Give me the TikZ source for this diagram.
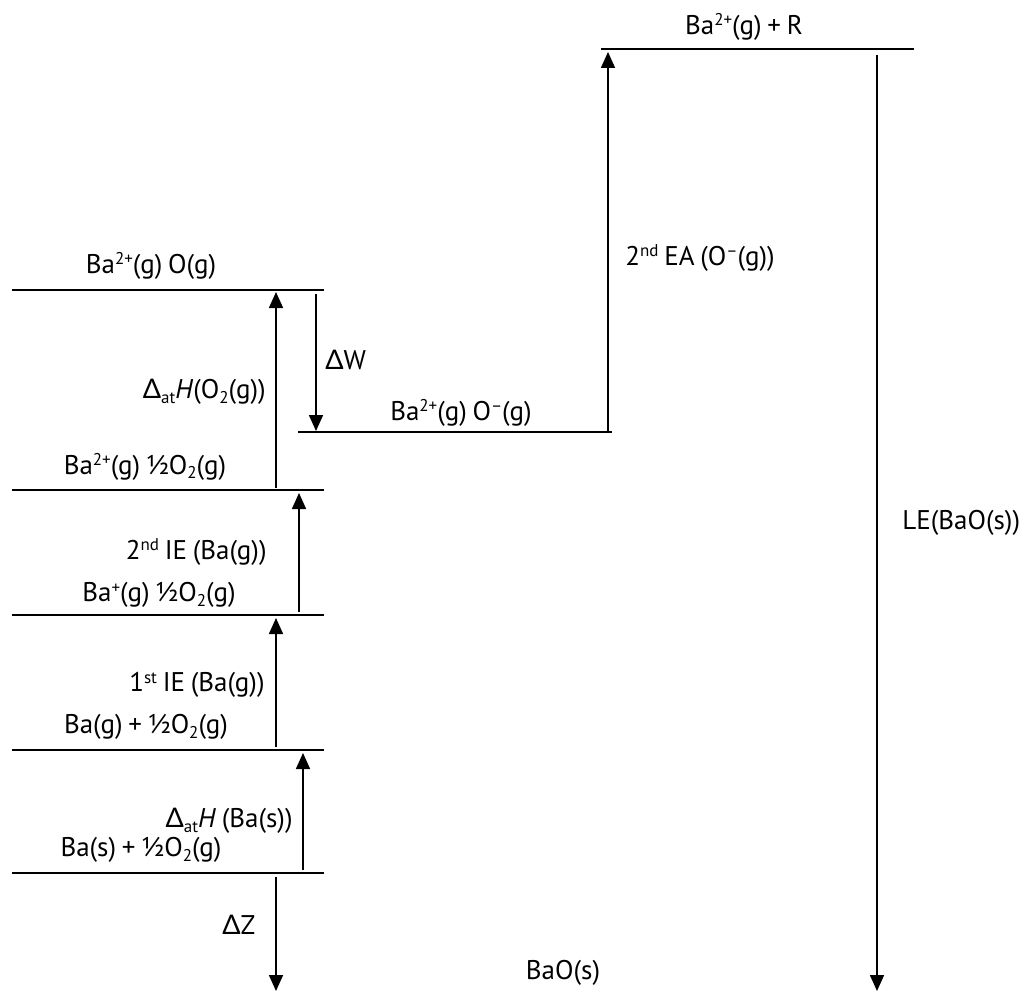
\documentclass[tikz,border=0pt]{standalone}
\usepackage{fontspec}
\setmainfont{PT Sans}[WordSpace=0.8]
\newfontfamily\greekfont{Lato}
\usetikzlibrary{arrows.meta}
% small helpers for the chemical labels
\newcommand{\Dl}{{\greekfont Δ}}
\newcommand{\hi}[1]{\raisebox{0.62ex}{\fontsize{8.5}{9}\selectfont #1}}
\newcommand{\lo}[1]{\raisebox{-0.35ex}{\fontsize{8.5}{9}\selectfont #1}}
\tikzset{
  level/.style={line width=0.85pt},
  jump/.style={line width=0.8pt,-{Triangle[width=7pt,length=8pt]}},
  lbl/.style={inner sep=0pt,font=\fontsize{13.5}{15}\selectfont},
}
\begin{document}
\begin{tikzpicture}[x=0.5pt,y=-0.5pt]
\useasboundingbox (0,0) rectangle (1026,994);

% energy levels
\draw[level] (601,49) -- (914,49);
\draw[level] (12,290) -- (324,290);
\draw[level] (298,432) -- (612,432);
\draw[level] (12,490) -- (324,490);
\draw[level] (12,615) -- (324,615);
\draw[level] (12,750) -- (324,750);
\draw[level] (12,873) -- (324,873);

% species on each level
\node[lbl] (top)  at (744,27)  {Ba\hi{2+}(g) + R};
\node[lbl] (lvA)  at (151,266) {Ba\hi{2+}(g) O(g)};
\node[lbl] (lvB)  at (461,413) {Ba\hi{2+}(g) O\hi{–}(g)};
\node[lbl] (lvC)  at (145,467) {Ba\hi{2+}(g) ½O\lo{2}(g)};
\node[lbl] (lvD)  at (159,595) {Ba\hi{+}(g) ½O\lo{2}(g)};
\node[lbl] (lvE)  at (146,727) {Ba(g) + ½O\lo{2}(g)};
\node[lbl] (lvF)  at (141,850) {Ba(s) + ½O\lo{2}(g)};
\node[lbl] (lvG)  at (563,973) {BaO(s)};

% step labels
\node[lbl,anchor=west] (ea2)  at (625,258) {2\hi{nd} EA (O\hi{–}(g))};
\node[lbl,anchor=west] (dW)   at (325,360) {\Dl W};
\node[lbl,anchor=east] (atO)  at (266,392) {\Dl\lo{at}\textit{H}(O\lo{2}(g))};
\node[lbl,anchor=east] (ie2)  at (267,552) {2\hi{nd} IE (Ba(g))};
\node[lbl,anchor=east] (ie1)  at (265,685) {1\hi{st} IE (Ba(g))};
\node[lbl,anchor=east] (atB)  at (293,821) {\Dl\lo{at}\textit{H} (Ba(s))};
\node[lbl,anchor=west] (dZ)   at (222,925) {\Dl Z};
\node[lbl,anchor=west] (le)   at (902,523) {LE(BaO(s))};

% arrow end points
\coordinate (eaS) at (608,432);  \coordinate (eaE) at (608,52);
\coordinate (leS) at (877,55);   \coordinate (leE) at (877,991);
\coordinate (aoS) at (276,488);  \coordinate (aoE) at (276,292);
\coordinate (dwS) at (316,294);  \coordinate (dwE) at (316,431);
\coordinate (i2S) at (299,612);  \coordinate (i2E) at (299,493);
\coordinate (i1S) at (276,747);  \coordinate (i1E) at (276,618);
\coordinate (abS) at (303,870);  \coordinate (abE) at (303,753);
\coordinate (dzS) at (276,877);  \coordinate (dzE) at (276,991);

% steps of the cycle
\draw[jump] (eaS) -- (eaE);
\draw[jump] (leS) -- (leE);
\draw[jump] (aoS) -- (aoE);
\draw[jump] (dwS) -- (dwE);
\draw[jump] (i2S) -- (i2E);
\draw[jump] (i1S) -- (i1E);
\draw[jump] (abS) -- (abE);
\draw[jump] (dzS) -- (dzE);
\end{tikzpicture}
\end{document}
